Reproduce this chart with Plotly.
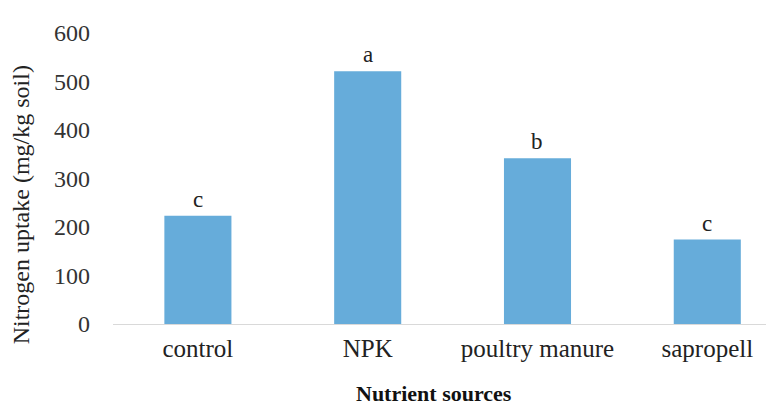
import plotly.graph_objects as go

categories = ["control", "NPK", "poultry manure", "sapropell"]
uptake = [223, 521, 342, 174]
letters = ["c", "a", "b", "c"]
y_ticks = [0, 100, 200, 300, 400, 500, 600]

FONT = "Liberation Serif"
BAR = "#66ACDA"

fig = go.Figure()
fig.add_trace(go.Bar(x=categories, y=uptake, marker=dict(color=BAR, line=dict(width=0)),
                     width=0.395, showlegend=False, hoverinfo="skip"))

for c, v, t in zip(categories, uptake, letters):
    fig.add_annotation(x=c, y=v, text=t, showarrow=False, yanchor="bottom", yshift=2,
                       font=dict(family=FONT, size=23, color="#222222"))

fig.add_annotation(xref="paper", yref="paper", x=-0.138, y=0.41, text="Nitrogen uptake (mg/kg soil)",
                   textangle=-90, showarrow=False, xanchor="center", yanchor="middle",
                   font=dict(family=FONT, size=24, color="#222222"))
fig.add_annotation(xref="paper", yref="paper", x=0.48, y=-0.29, text="<b>Nutrient sources</b>",
                   showarrow=False, xanchor="center", yanchor="bottom",
                   font=dict(family=FONT, size=22, color="#111111"))

fig.update_layout(
    width=774, height=412,
    margin=dict(l=105, r=0, t=25, b=96),
    plot_bgcolor="white", paper_bgcolor="white",
    font=dict(family=FONT, size=23, color="#333333"),
    xaxis=dict(range=[-0.5, 3.44], showline=True, linecolor="#D9D9D9", linewidth=1.3,
               showgrid=False, ticks="", ticklabelstandoff=2,
               tickfont=dict(family=FONT, size=25, color="#222222")),
    yaxis=dict(range=[0, 600], tickvals=y_ticks, showgrid=False, zeroline=False,
               showline=False, ticks="", ticklabelstandoff=22,
               tickfont=dict(family=FONT, size=24, color="#333333")),
)

fig.write_html("out.html")
